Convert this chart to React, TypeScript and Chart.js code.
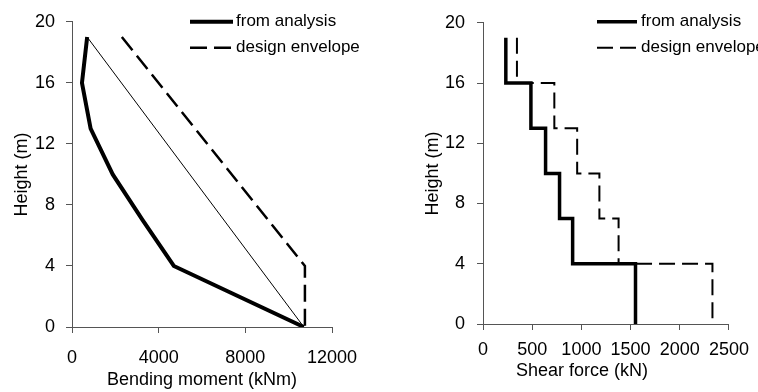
import React, { useEffect, useRef } from "react";
import { Chart, registerables } from "chart.js";

Chart.register(...registerables);

// ---- data ----
const heights = [19, 16, 13, 10, 7, 4, 0];
const momentAnalysis = [700, 460, 860, 1880, 3260, 4700, 10700];
const momentLineHeights = [19, 0];
const momentLine = [700, 10700];
const momentEnvelopeHeights = [19, 4, 0];
const momentEnvelope = [2300, 10750, 10750];
const shearAnalysis = [232, 487, 636, 778, 911, 1550, 1550];
const shearEnvelope = [345, 725, 957, 1183, 1378, 2332, 2332];

const seriesLabels = ["from analysis", "design envelope"];
const momentTicks = [0, 4000, 8000, 12000];
const shearTicks = [0, 500, 1000, 1500, 2000, 2500];
const heightTicks = [0, 4, 8, 12, 16, 20];
const momentTitle = "Bending moment (kNm)";
const shearTitle = "Shear force (kN)";
const heightTitle = "Height (m)";

const FAMILY = "'Liberation Sans', Arial, Helvetica, sans-serif";
const axisFont = { family: FAMILY, size: 18, lineHeight: 1.2 };
const legendFontSize = 17;

const toPoints = (xs: number[], ys: number[]) => xs.map((x, i) => ({ x, y: ys[i] }));

const legendPlugin = {
  id: "customLegend",
  afterDraw(chart: any, _args: any, opts: any) {
    if (!opts || !opts.display) return;
    const ctx = chart.ctx;
    const area = chart.chartArea;
    const x0 = area.left + opts.dx;
    const y0 = area.top + opts.dy;
    ctx.save();
    let row = 0;
    chart.data.datasets.forEach((ds: any) => {
      if (!ds.label) return;
      const y = y0 + row * opts.rowHeight;
      ctx.beginPath();
      ctx.setLineDash(ds.borderDash || []);
      ctx.lineWidth = ds.borderWidth;
      ctx.strokeStyle = ds.borderColor;
      ctx.moveTo(x0, y);
      ctx.lineTo(x0 + opts.lineLength, y);
      ctx.stroke();
      ctx.setLineDash([]);
      ctx.fillStyle = "#000";
      ctx.font = `${legendFontSize}px ${FAMILY}`;
      ctx.textBaseline = "middle";
      ctx.textAlign = "left";
      ctx.fillText(ds.label, x0 + opts.lineLength + opts.gap, y);
      row++;
    });
    ctx.restore();
  },
};

const extraTitlePlugin = {
  id: "extraTitle",
  afterDraw(chart: any, _args: any, opts: any) {
    if (!opts || !opts.text) return;
    const ctx = chart.ctx;
    const area = chart.chartArea;
    ctx.save();
    ctx.fillStyle = "#000";
    ctx.font = `${axisFont.size}px ${FAMILY}`;
    ctx.textBaseline = "middle";
    ctx.textAlign = "center";
    ctx.fillText(opts.text, area.left + opts.dx, area.bottom + opts.dy);
    ctx.restore();
  },
};

function axis(ticks: number[], opts: any) {
  return {
    type: "linear",
    min: ticks[0],
    max: ticks[ticks.length - 1],
    ticks: {
      stepSize: ticks[1] - ticks[0],
      padding: opts.tickPadding,
      color: "#000",
      font: axisFont,
      maxRotation: 0,
      minRotation: 0,
      autoSkip: false,
      callback: (v: any) => String(v),
    },
    grid: {
      drawOnChartArea: false,
      drawTicks: true,
      tickLength: 6,
      color: "#555",
      tickColor: "#555",
    },
    border: { display: true, color: "#555", width: 1 },
    title: {
      display: !!opts.title,
      text: opts.title || "",
      color: "#000",
      font: axisFont,
      padding: opts.titlePadding,
    },
    afterFit: opts.afterFit,
  };
}

function lineDs(label: string | undefined, data: any[], width: number, dash: number[] | undefined, stepped?: any) {
  return {
    label,
    data,
    showLine: true,
    borderColor: "#000",
    backgroundColor: "#000",
    borderWidth: width,
    borderDash: dash,
    pointRadius: 0,
    pointHoverRadius: 0,
    fill: false,
    tension: 0,
    stepped: stepped || false,
    borderCapStyle: "butt",
    borderJoinStyle: "miter",
  };
}

function ChartCanvas({ config, width, height, left }: any) {
  const ref = useRef<HTMLCanvasElement | null>(null);
  useEffect(() => {
    if (!ref.current) return;
    const chart = new Chart(ref.current, config);
    return () => chart.destroy();
  }, []);
  return (
    <canvas
      ref={ref}
      width={width}
      height={height}
      style={{ position: "absolute", left, top: 0, width, height }}
    />
  );
}

const momentConfig: any = {
  type: "scatter",
  data: {
    datasets: [
      lineDs(seriesLabels[0], toPoints(momentAnalysis, heights), 4, undefined),
      lineDs(seriesLabels[1], toPoints(momentEnvelope, momentEnvelopeHeights), 2.5, [17, 7]),
      lineDs(undefined, toPoints(momentLine, momentLineHeights), 1, undefined),
    ],
  },
  options: {
    animation: false,
    responsive: false,
    devicePixelRatio: 1,
    events: [],
    layout: { padding: { top: 17, right: 48, bottom: 0, left: 0 } },
    plugins: {
      legend: { display: false },
      tooltip: { enabled: false },
      customLegend: { display: true, dx: 118, dy: 0, lineLength: 43, gap: 3, rowHeight: 26 },
    },
    scales: {
      x: axis(momentTicks, {
        tickPadding: 14,
        title: momentTitle,
        titlePadding: { top: 0, bottom: 1 },
        afterFit: (s: any) => { s.height = 65; },
      }),
      y: axis(heightTicks, {
        tickPadding: 11,
        title: heightTitle,
        titlePadding: { top: 11, bottom: 0 },
        afterFit: (s: any) => { s.width = 72; },
      }),
    },
  },
  plugins: [legendPlugin],
};

const shearConfig: any = {
  type: "scatter",
  data: {
    datasets: [
      lineDs(seriesLabels[0], toPoints(shearAnalysis, heights), 3.5, undefined, "after"),
      lineDs(seriesLabels[1], toPoints(shearEnvelope, heights), 2, [16, 7], "after"),
    ],
  },
  options: {
    animation: false,
    responsive: false,
    devicePixelRatio: 1,
    events: [],
    layout: { padding: { top: 22, right: 23, bottom: 0, left: 0 } },
    plugins: {
      legend: { display: false },
      tooltip: { enabled: false },
      customLegend: { display: true, dx: 114, dy: -1, lineLength: 40, gap: 4, rowHeight: 26 },
      extraTitle: { text: shearTitle, dx: 99, dy: 47 },
    },
    scales: {
      x: axis(shearTicks, {
        tickPadding: 9,
        title: "",
        afterFit: (s: any) => { s.height = 68; },
      }),
      y: axis(heightTicks, {
        tickPadding: 12,
        title: heightTitle,
        titlePadding: { top: 42, bottom: 0 },
        afterFit: (s: any) => { s.width = 103; },
      }),
    },
  },
  plugins: [legendPlugin, extraTitlePlugin],
};

export default function App() {
  return (
    <div style={{ position: "absolute", left: 0, top: 0, width: 758, height: 392, background: "#fff", overflow: "hidden" }}>
      <ChartCanvas config={momentConfig} width={380} height={392} left={0} />
      <ChartCanvas config={shearConfig} width={378} height={392} left={380} />
    </div>
  );
}
